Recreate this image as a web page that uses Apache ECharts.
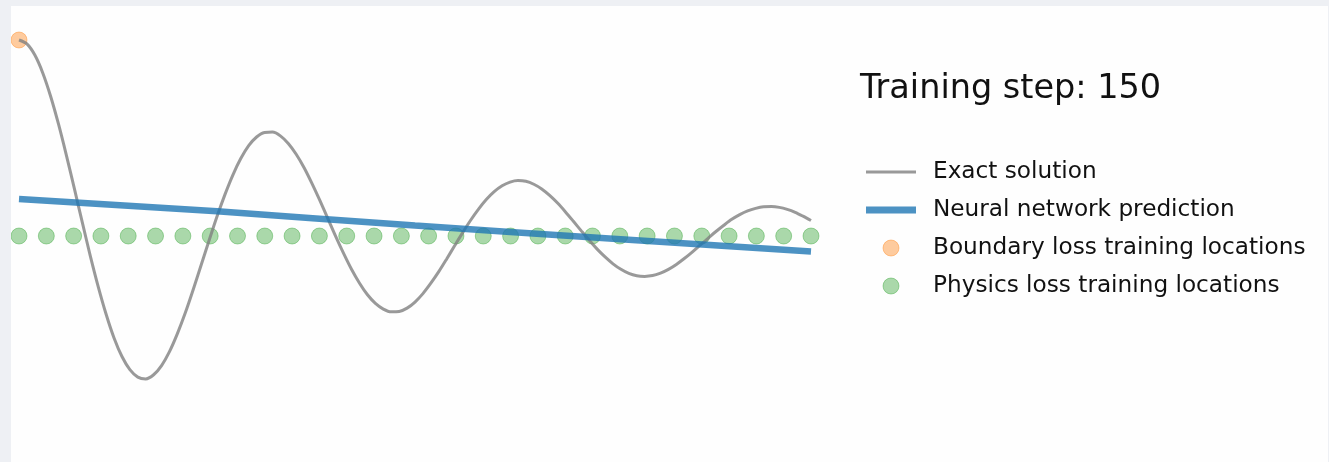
<!DOCTYPE html>
<html>
<head>
<meta charset="utf-8">
<script src="https://cdn.jsdelivr.net/npm/echarts@6/dist/echarts.min.js"></script>
<style>
  html, body { margin: 0; padding: 0; background: #eef0f4; }
  #chart { position: absolute; left: 11px; top: 6px; width: 1317px; height: 456px; background: #fefefe; }
</style>
</head>
<body>
<div id="chart"></div>
<script>
// exact solution of the damped oscillator, read every 0.01 along x
const exactX = [
  0, 0.01, 0.02, 0.03, 0.04, 0.05, 0.06, 0.07, 0.08, 0.09,
  0.1, 0.11, 0.12, 0.13, 0.14, 0.15, 0.16, 0.17, 0.18, 0.19,
  0.2, 0.21, 0.22, 0.23, 0.24, 0.25, 0.26, 0.27, 0.28, 0.29,
  0.3, 0.31, 0.32, 0.33, 0.34, 0.35, 0.36, 0.37, 0.38, 0.39,
  0.4, 0.41, 0.42, 0.43, 0.44, 0.45, 0.46, 0.47, 0.48, 0.49,
  0.5, 0.51, 0.52, 0.53, 0.54, 0.55, 0.56, 0.57, 0.58, 0.59,
  0.6, 0.61, 0.62, 0.63, 0.64, 0.65, 0.66, 0.67, 0.68, 0.69,
  0.7, 0.71, 0.72, 0.73, 0.74, 0.75, 0.76, 0.77, 0.78, 0.79,
  0.8, 0.81, 0.82, 0.83, 0.84, 0.85, 0.86, 0.87, 0.88, 0.89,
  0.9, 0.91, 0.92, 0.93, 0.94, 0.95, 0.96, 0.97, 0.98, 0.99, 1
]
const exactY = [
  1, 0.980, 0.923, 0.832, 0.712, 0.569, 0.409, 0.240, 0.068, -0.101,
  -0.258, -0.399, -0.520, -0.615, -0.682, -0.720, -0.729, -0.708, -0.661, -0.590,
  -0.498, -0.392, -0.273, -0.148, -0.023, 0.099, 0.211, 0.311, 0.395, 0.461,
  0.505, 0.528, 0.530, 0.511, 0.472, 0.417, 0.348, 0.267, 0.180, 0.089,
  -0.003, -0.090, -0.171, -0.241, -0.300, -0.344, -0.373, -0.387, -0.385, -0.368,
  -0.337, -0.294, -0.241, -0.182, -0.117, -0.050, 0.016, 0.079, 0.136, 0.186,
  0.226, 0.256, 0.275, 0.283, 0.279, 0.264, 0.240, 0.207, 0.168, 0.123,
  0.075, 0.026, -0.022, -0.067, -0.107, -0.142, -0.170, -0.191, -0.203, -0.206,
  -0.202, -0.189, -0.170, -0.145, -0.115, -0.082, -0.047, -0.012, 0.023, 0.055,
  0.085, 0.109, 0.128, 0.141, 0.149, 0.150, 0.146, 0.136, 0.121, 0.101, 0.079
]

// network prediction at step 150
const predX = [0, 0.25, 0.5, 0.75, 1]
const predY = [0.189, 0.126, 0.053, -0.014, -0.079]

// boundary point
const boundaryX = [0]
const boundaryY = [1]

// collocation points
const physicsX = [0, 0.0345, 0.0690, 0.1034, 0.1379, 0.1724, 0.2069, 0.2414, 0.2759, 0.3103, 0.3448, 0.3793, 0.4138, 0.4483, 0.4828, 0.5172, 0.5517, 0.5862, 0.6207, 0.6552, 0.6897, 0.7241, 0.7586, 0.7931, 0.8276, 0.8621, 0.8966, 0.9310, 0.9655, 1]
const physicsY = [0, 0, 0, 0, 0, 0, 0, 0, 0, 0, 0, 0, 0, 0, 0, 0, 0, 0, 0, 0, 0, 0, 0, 0, 0, 0, 0, 0, 0, 0]

const step = 150

const zip = (xs, ys) => xs.map((x, i) => [x, ys[i]])

const grey = 'rgba(128,128,128,0.8)'
const blue = 'rgba(31,119,180,0.8)'
const orange = 'rgba(255,127,14,0.4)'
const green = 'rgba(44,160,44,0.4)'
const font = 'DejaVu Sans'

const chart = echarts.init(document.getElementById('chart'))
chart.setOption({
  animation: false,
  title: {
    text: 'Training step: ' + step,
    left: 849,
    top: 66,
    padding: 0,
    textStyle: { fontFamily: font, fontSize: 33.5, fontWeight: 'normal', color: '#111' }
  },
  legend: {
    orient: 'vertical',
    left: 855,
    top: 154,
    padding: 0,
    itemWidth: 50,
    itemHeight: 16,
    itemGap: 14,
    symbolKeepAspect: true,
    textStyle: { fontFamily: font, fontSize: 23.2, color: '#111', lineHeight: 24, padding: [0, 0, 0, 12] },
    data: [
      { name: 'Exact solution', icon: 'path://M0,0H50V3H0Z', itemStyle: { color: grey, borderWidth: 0 } },
      { name: 'Neural network prediction', icon: 'path://M0,0H50V7H0Z', itemStyle: { color: blue, borderWidth: 0 } },
      { name: 'Boundary loss training locations', icon: 'circle', itemStyle: { color: orange, borderColor: orange, borderWidth: 1 } },
      { name: 'Physics loss training locations', icon: 'circle', itemStyle: { color: green, borderColor: green, borderWidth: 1 } }
    ]
  },
  grid: { left: 8, top: 34, width: 792, height: 392 },
  xAxis: { type: 'value', min: 0, max: 1, show: false },
  yAxis: { type: 'value', min: -1, max: 1, show: false },
  series: [
    {
      name: 'Exact solution',
      type: 'line',
      data: zip(exactX, exactY),
      smooth: 0.3,
      showSymbol: false,
      clip: false,
      color: grey,
      lineStyle: { color: grey, width: 3 }
    },
    {
      name: 'Neural network prediction',
      type: 'line',
      data: zip(predX, predY),
      smooth: true,
      showSymbol: false,
      clip: false,
      color: blue,
      lineStyle: { color: blue, width: 6.5 }
    },
    {
      name: 'Boundary loss training locations',
      type: 'scatter',
      data: zip(boundaryX, boundaryY),
      symbolSize: 16,
      clip: false,
      itemStyle: { color: orange, borderColor: orange, borderWidth: 1, opacity: 1 }
    },
    {
      name: 'Physics loss training locations',
      type: 'scatter',
      data: zip(physicsX, physicsY),
      symbolSize: 16,
      clip: false,
      itemStyle: { color: green, borderColor: green, borderWidth: 1, opacity: 1 }
    }
  ]
})
</script>
</body>
</html>
